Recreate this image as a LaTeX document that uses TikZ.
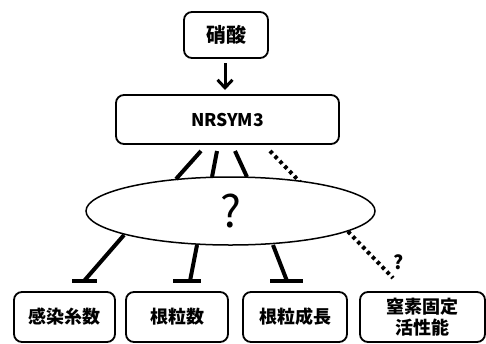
\documentclass[tikz,border=0pt]{standalone}
\usepackage{fontspec}
\setmainfont{Noto Sans CJK JP}
\usetikzlibrary{arrows.meta,shapes.geometric}
\begin{document}
\begin{tikzpicture}[x=1pt,y=-1pt,
  box/.style={draw,line width=1.8pt,rounded corners=8pt,minimum height=#1,inner sep=0pt,font=\bfseries\fontsize{18}{19}\selectfont},
  conn/.style={line width=4pt},
  bar/.style={line width=4.5pt},
  dots/.style={line width=4pt,dash pattern=on 3.5pt off 3.5pt}]
\useasboundingbox (0,0) rectangle (486,343);
% nodes
\node[box=46pt,minimum width=84pt,font=\bfseries\fontsize{20}{21}\selectfont] (hs) at (226,35) {硝酸};
\node[box=49pt,minimum width=223pt,font=\bfseries\fontsize{17.5}{18}\selectfont] (nr) at (227.5,119.5) {NRSYM3};
\node[box=50pt,minimum width=101pt] (b1) at (64.5,317) {感染糸数};
\node[box=50pt,minimum width=102pt] (b2) at (177,317) {根粒数};
\node[box=50pt,minimum width=104pt] (b3) at (295,317) {根粒成長};
\node[box=50pt,minimum width=125pt,align=center,font=\bfseries\fontsize{18}{21}\selectfont] (b4) at (422.5,317) {窒素固定\\活性能};
% coordinates
\coordinate (u1) at (201,151); \coordinate (e1) at (176,179);
\coordinate (u2) at (217,151); \coordinate (e2) at (212,177);
\coordinate (u3) at (235,151); \coordinate (e3) at (247,177);
\coordinate (u4) at (270,151); \coordinate (d4) at (393,278);
\coordinate (l1) at (124,235); \coordinate (t1) at (84,281);
\coordinate (l2) at (197,245); \coordinate (t2) at (190,281);
\coordinate (l3) at (273,245); \coordinate (t3) at (287,281);
\coordinate (a0) at (225,63); \coordinate (a1) at (225,90);
% arrow
\draw[line width=3pt,-{Straight Barb[length=8pt,width=15pt,line width=3pt]}] (a0) -- (a1);
% dotted connector behind ellipse
\draw[dots] (u4) -- (d4);
\node[font=\bfseries\fontsize{19}{20}\selectfont,inner sep=0pt] (q2) at (399,262) {?};
% ellipse
\node[draw,ellipse,fill=white,line width=1.5pt,minimum width=289pt,minimum height=68pt,inner sep=0pt,font=\fontsize{44}{44}\selectfont] (el) at (230.5,211) {?};
% upper connectors
\draw[conn] (u1) -- (e1);
\draw[conn] (u2) -- (e2);
\draw[conn] (u3) -- (e3);
% lower connectors with bars
\draw[conn] (l1) -- (t1);
\draw[bar] ([xshift=-12pt]t1) -- ([xshift=13pt]t1);
\draw[conn] (l2) -- (t2);
\draw[bar] ([xshift=-17pt]t2) -- ([xshift=11pt]t2);
\draw[conn] (l3) -- (t3);
\draw[bar] ([xshift=-17pt]t3) -- ([xshift=16pt]t3);
\end{tikzpicture}
\end{document}
